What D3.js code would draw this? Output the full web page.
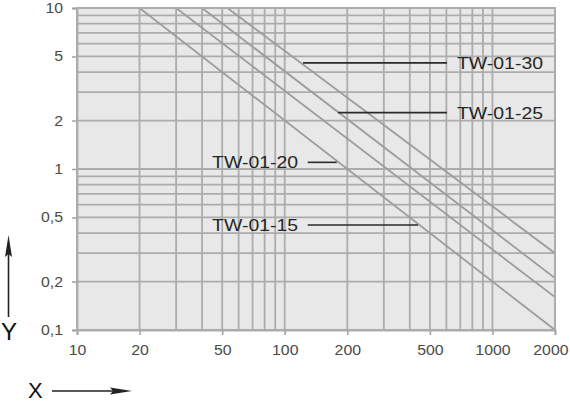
<!DOCTYPE html>
<html><head><meta charset="utf-8">
<script src="https://cdn.jsdelivr.net/npm/d3@7"></script>
<style>body{margin:0;background:#fff}svg{display:block}</style>
</head><body><svg id="c" width="570" height="402"></svg>
<script>
// ---- data ----
const xTickValues = [10, 20, 50, 100, 200, 500, 1000, 2000];
const xTickLabels = ["10", "20", "50", "100", "200", "500", "1000", "2000"];
const yTickValues = [0.1, 0.2, 0.5, 1, 2, 5, 10];
const yTickLabels = ["0,1", "0,2", "0,5", "1", "2", "5", "10"];
const xGridValues = [10, 20, 30, 40, 50, 60, 70, 80, 90, 100, 200, 300, 400, 500, 600, 700, 800, 900, 1000, 2000];
const yGridValues = [0.1, 0.2, 0.3, 0.4, 0.5, 0.6, 0.7, 0.8, 0.9, 1, 2, 3, 4, 5, 6, 7, 8, 9, 10];

// diagonal curves (straight on log-log): start and end points
const curveStartX = [20, 30, 40, 53];
const curveStartY = [10, 10, 10, 10];
const curveEndX = [2000, 2000, 2000, 2000];
const curveEndY = [0.1, 0.16, 0.21, 0.3];

// labels with leader lines
const labelNames = ["TW-01-30", "TW-01-25", "TW-01-20", "TW-01-15"];
const labelY = [4.56, 2.24, 1.10, 0.449];
const leaderFromX = [122.5, 180.6, 129, 129];
const leaderToX = [604, 604, 178, 438];
const labelTextX = [675, 675, 116, 116];
const labelSide = ["right", "right", "left", "left"];

// ---- chart ----
const svg = d3.select("#c");
const x = d3.scaleLog().domain([10, 2000]).range([77, 555]);
const y = d3.scaleLog().domain([0.1, 10]).range([330, 8]);
const gridColor = "#acacac";
const font = "Liberation Sans, Arial, Helvetica, sans-serif";

svg.append("rect").attr("x", x(10)).attr("y", y(10))
  .attr("width", x(2000) - x(10)).attr("height", y(0.1) - y(10))
  .attr("fill", "#e8e8e8");

svg.append("clipPath").attr("id", "clip").append("rect")
  .attr("x", x(10)).attr("y", y(10))
  .attr("width", x(2000) - x(10)).attr("height", y(0.1) - y(10));

const grid = svg.append("g");
grid.selectAll("line.v").data(xGridValues).join("line").attr("class", "v")
  .attr("x1", d => x(d)).attr("x2", d => x(d))
  .attr("y1", y(0.1)).attr("y2", y(10))
  .attr("stroke", gridColor).attr("stroke-width", 1.8);
grid.selectAll("line.h").data(yGridValues).join("line").attr("class", "h")
  .attr("y1", d => y(d)).attr("y2", d => y(d))
  .attr("x1", x(10)).attr("x2", x(2000))
  .attr("stroke", gridColor).attr("stroke-width", 1.8);

const curves = curveStartX.map((sx, i) => [[sx, curveStartY[i]], [curveEndX[i], curveEndY[i]]]);
svg.append("g").attr("clip-path", "url(#clip)")
  .selectAll("path").data(curves).join("path")
  .attr("d", d3.line().x(d => x(d[0])).y(d => y(d[1])))
  .attr("fill", "none").attr("stroke", "#9c9c9c").attr("stroke-width", 1.8);

// axes
const xAxis = svg.append("g").attr("transform", `translate(0,${y(0.1)})`)
  .call(d3.axisBottom(x).tickValues(xTickValues)
    .tickFormat((d, i) => xTickLabels[i]).tickSize(5).tickPadding(10));
const yAxis = svg.append("g").attr("transform", `translate(${x(10)},0)`)
  .call(d3.axisLeft(y).tickValues(yTickValues)
    .tickFormat((d, i) => yTickLabels[i]).tickSize(5).tickPadding(9));
[xAxis, yAxis].forEach(a => {
  a.select(".domain").attr("stroke", gridColor).attr("stroke-width", 1.8);
  a.selectAll(".tick line").attr("stroke", "#a0a0a0").attr("stroke-width", 1.5);
  a.selectAll(".tick text").attr("fill", "#4a4a4a")
    .style("font-family", font).style("font-size", "14px")
    .each(function () {
      const w = this.getComputedTextLength();
      d3.select(this).attr("textLength", w * 1.13).attr("lengthAdjust", "spacingAndGlyphs");
    });
});
// keep the last x label inside the window
xAxis.selectAll(".tick text").filter(d => d === 2000)
  .attr("text-anchor", "end").attr("x", 13);

// frame
svg.append("rect").attr("x", x(10)).attr("y", y(10))
  .attr("width", x(2000) - x(10)).attr("height", y(0.1) - y(10))
  .attr("fill", "none").attr("stroke", gridColor).attr("stroke-width", 1.8);

// labels
const ann = svg.append("g");
labelNames.forEach((name, i) => {
  ann.append("line")
    .attr("x1", x(leaderFromX[i])).attr("x2", x(leaderToX[i]))
    .attr("y1", y(labelY[i])).attr("y2", y(labelY[i]))
    .attr("stroke", "#2a2a2a").attr("stroke-width", 1.6);
  const t = ann.append("text")
    .attr("x", x(labelTextX[i])).attr("y", y(labelY[i]))
    .attr("dy", "0.36em")
    .attr("text-anchor", labelSide[i] === "right" ? "start" : "end")
    .style("font-family", font).style("font-size", "17px")
    .attr("fill", "#262626").text(name);
  t.attr("textLength", 86).attr("lengthAdjust", "spacingAndGlyphs");
});

// axis names with arrows
svg.append("text").attr("x", 28).attr("y", 398).text("X")
  .style("font-family", font).style("font-size", "22px").attr("fill", "#111");
svg.append("text").attr("x", 1).attr("y", 340).text("Y")
  .style("font-family", font).style("font-size", "24px").attr("fill", "#111");
const arrow = svg.append("g").attr("fill", "#222").attr("stroke", "#222");
arrow.append("line").attr("x1", 52).attr("x2", 116).attr("y1", 391).attr("y2", 391).attr("stroke-width", 1.6);
arrow.append("path").attr("d", "M132,391 L110,387.5 L113,391 L110,394.5 Z").attr("stroke", "none");
arrow.append("line").attr("x1", 8.5).attr("x2", 8.5).attr("y1", 317).attr("y2", 252).attr("stroke-width", 1.6);
arrow.append("path").attr("d", "M8.5,235 L5,257 L8.5,254 L12,257 Z").attr("stroke", "none");
</script>
</body></html>
